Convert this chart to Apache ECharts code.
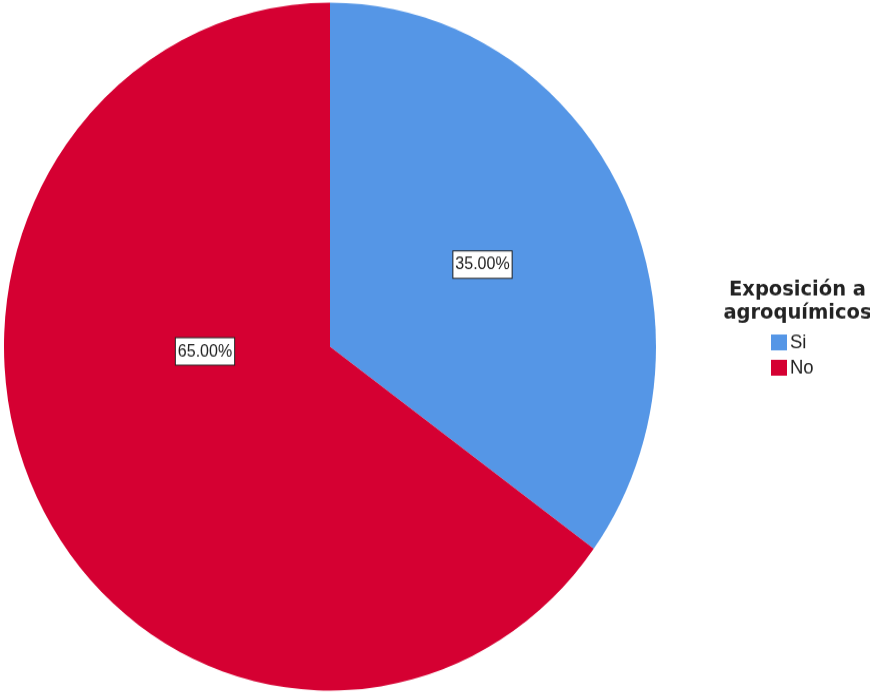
<!DOCTYPE html>
<html lang="es">
<head>
    <meta charset="UTF-8">
    <title>Exposición a agroquímicos</title>
    <style>
        html, body { margin: 0; padding: 0; background: #fff; }
        #wrap { width: 870px; height: 694px; overflow: hidden; }
        /* el gráfico original está algo estirado en vertical */
        #main { transform: scaleY(1.0552); transform-origin: 0 0; }
    </style>
</head>
<body>
    <div id="wrap">
        <div id="main" style="width: 870px; height: 658px"></div>
    </div>
    <script src="https://cdn.jsdelivr.net/npm/echarts@6/dist/echarts.min.js"></script>
    <script type="text/javascript">
        // datos
        var categorias = ['Si', 'No'];
        var porcentajes = [35, 65];
        var colores = ['#5596e6', '#d50032'];

        var myChart = echarts.init(document.getElementById('main'));

        var cx = 330, cy = 328.4;
        // desplazamiento de cada etiqueta respecto al centro
        var offsets = [[152.5, -77.7], [-125, 4.7]];

        var option = {
            animation: false,
            title: {
                text: 'Exposición a\nagroquímicos',
                left: 792.5,
                top: 258.5,
                textAlign: 'center',
                textStyle: {
                    fontFamily: 'DejaVu Sans',
                    fontWeight: 'bold',
                    fontSize: 19.5,
                    lineHeight: 22.5,
                    color: '#222'
                }
            },
            legend: {
                orient: 'vertical',
                left: 771,
                top: 315,
                padding: 0,
                icon: 'rect',
                itemWidth: 16,
                itemHeight: 15,
                itemGap: 5,
                textStyle: {
                    fontFamily: 'Liberation Sans',
                    fontSize: 18.5,
                    lineHeight: 15,
                    color: '#222',
                    padding: [0, 0, 0, -2]
                },
                data: categorias
            },
            series: [{
                type: 'pie',
                center: [cx, cy],
                radius: [0, 326],
                startAngle: 90,
                clockwise: true,
                silent: true,
                label: {
                    show: true,
                    position: 'inside',
                    formatter: function (p) {
                        return p.value.toFixed(2) + '%';
                    },
                    fontFamily: 'Liberation Sans',
                    fontSize: 16,
                    lineHeight: 16,
                    color: '#222',
                    backgroundColor: '#fff',
                    borderColor: '#222',
                    borderWidth: 1,
                    padding: [5, 2, 4, 2]
                },
                labelLayout: function (p) {
                    var o = offsets[p.dataIndex];
                    return { x: cx + o[0], y: cy + o[1], align: 'center', verticalAlign: 'middle' };
                },
                labelLine: { show: false },
                data: categorias.map(function (c, i) {
                    return { name: c, value: porcentajes[i], itemStyle: { color: colores[i] } };
                })
            }]
        };
        myChart.setOption(option);
    </script>
</body>
</html>
